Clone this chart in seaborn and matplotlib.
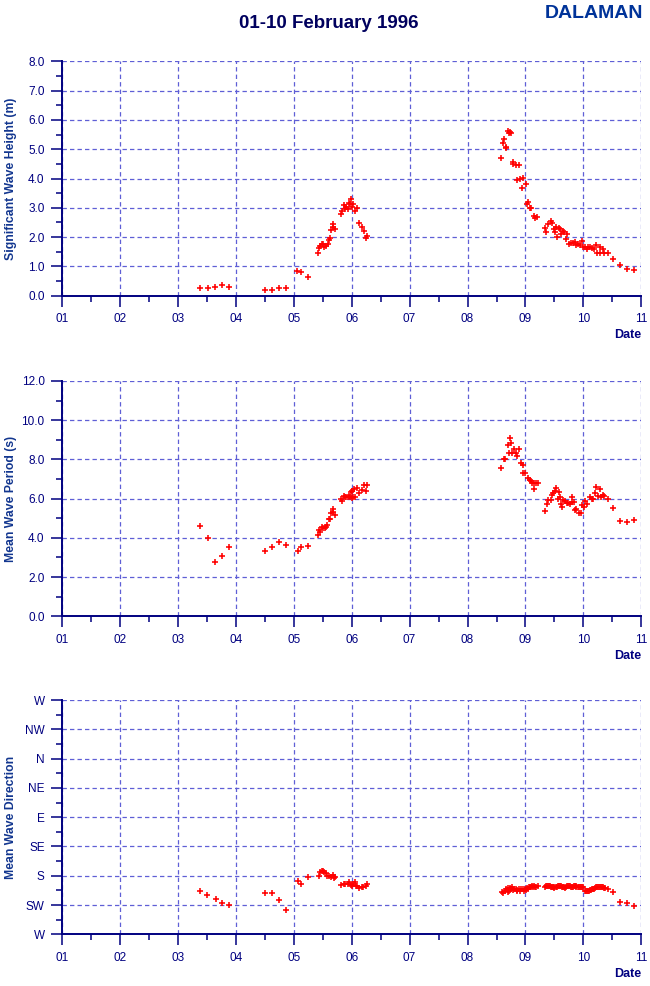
import numpy as np
import pandas as pd
import matplotlib
matplotlib.use("Agg")
import matplotlib.pyplot as plt
from matplotlib.ticker import MultipleLocator, FixedLocator, FormatStrFormatter
import seaborn as sns

# --- data (day of February 1996) ---
hs_day = [3.39, 3.52, 3.64, 3.77, 3.89,
          4.50, 4.63, 4.75, 4.87,
          5.06, 5.13, 5.25,
          5.42, 5.43, 5.46, 5.49, 5.51, 5.53, 5.56, 5.59, 5.61, 5.63, 5.65, 5.67, 5.68, 5.72,
          5.82, 5.84, 5.87, 5.89, 5.91, 5.93, 5.95, 5.97, 5.99, 6.01, 6.02, 6.05, 6.09,
          6.13, 6.18, 6.22, 6.25, 6.26,
          8.58, 8.61, 8.63, 8.66, 8.67, 8.70, 8.72, 8.74, 8.75,
          8.78, 8.79, 8.83, 8.86, 8.88, 8.91, 8.94, 8.96, 9.01,
          9.03, 9.04, 9.07, 9.10, 9.14, 9.17, 9.20,
          9.33, 9.36, 9.38, 9.44, 9.46, 9.50, 9.53, 9.51, 9.55, 9.58, 9.61, 9.60, 9.64, 9.67,
          9.70, 9.72, 9.75, 9.79, 9.82, 9.85, 9.87, 9.90, 9.94, 9.97, 10.00, 10.03, 10.06,
          10.08, 10.12, 10.15, 10.19, 10.22, 10.24, 10.28, 10.28, 10.33, 10.36, 10.43,
          10.51, 10.64, 10.76, 10.88]
hs_val = [0.25, 0.25, 0.31, 0.36, 0.29,
          0.19, 0.19, 0.25, 0.26,
          0.84, 0.81, 0.65,
          1.45, 1.62, 1.71, 1.75, 1.75, 1.65, 1.71, 1.75, 1.90, 1.98, 2.24, 2.36, 2.46, 2.29,
          2.79, 2.89, 3.11, 2.95, 3.02, 2.97, 3.17, 3.13, 3.31, 3.04, 3.13, 2.89, 2.98,
          2.48, 2.34, 2.21, 1.97, 2.04,
          4.69, 5.20, 5.36, 5.06, 5.04, 5.62, 5.55, 5.60, 5.55,
          4.49, 4.57, 4.45, 3.95, 4.46, 3.97, 3.67, 4.03, 3.81,
          3.13, 3.19, 2.98, 2.98, 2.72, 2.65, 2.70,
          2.30, 2.18, 2.44, 2.54, 2.47, 2.29, 2.34, 2.16, 1.99, 2.30, 2.10, 2.27, 2.22, 2.18,
          1.95, 2.12, 1.75, 1.81, 1.81, 1.82, 1.74, 1.76, 1.72, 1.88, 1.67, 1.65, 1.59,
          1.65, 1.67, 1.63, 1.58, 1.74, 1.47, 1.47, 1.67, 1.58, 1.47, 1.46,
          1.24, 1.06, 0.90, 0.87]

tm_day = [3.39, 3.52, 3.64, 3.76, 3.89,
          4.50, 4.63, 4.75, 4.87,
          5.07, 5.13, 5.25,
          5.42, 5.44, 5.46, 5.49, 5.51, 5.54, 5.56, 5.58,
          5.61, 5.63, 5.65, 5.67, 5.68, 5.71,
          5.82, 5.84, 5.86, 5.88, 5.90, 5.93, 5.95, 5.97, 6.00, 6.02, 6.05,
          5.98, 6.01, 6.04, 6.09,
          6.13, 6.17, 6.21, 6.25, 6.27,
          8.58, 8.63, 8.65, 8.69, 8.72, 8.74, 8.75, 8.77, 8.80, 8.83, 8.86, 8.88,
          8.92, 8.95, 8.96, 9.00,
          9.04, 9.07, 9.09, 9.11, 9.14, 9.15, 9.18, 9.21,
          9.33, 9.37, 9.39, 9.44, 9.46, 9.48, 9.51, 9.53, 9.57, 9.56, 9.60, 9.63, 9.61,
          9.65, 9.68, 9.71, 9.73, 9.76, 9.80, 9.80, 9.84, 9.86, 9.88, 9.92, 9.95, 9.98,
          10.01, 10.03, 10.07, 10.11, 10.14, 10.17, 10.20, 10.22, 10.25, 10.28, 10.30,
          10.33, 10.36, 10.43, 10.51, 10.64, 10.75, 10.88]
tm_val = [4.59, 3.98, 2.77, 3.06, 3.54,
          3.32, 3.52, 3.79, 3.62,
          3.35, 3.52, 3.57,
          4.13, 4.40, 4.29, 4.56, 4.52, 4.49, 4.54, 4.66,
          4.96, 4.98, 5.27, 5.34, 5.49, 5.15,
          5.98, 5.88, 6.15, 6.07, 6.07, 6.10, 6.15, 6.09, 6.05, 6.10, 6.09,
          6.36, 6.41, 6.48, 6.56,
          6.28, 6.46, 6.68, 6.38, 6.68,
          7.55, 8.01, 8.01, 8.72, 8.35, 9.08, 8.86, 8.35, 8.52, 8.35, 8.18, 8.52,
          7.84, 7.30, 7.72, 7.30,
          7.04, 6.95, 6.90, 6.79, 6.48, 6.80, 6.80, 6.82,
          5.36, 5.73, 5.95, 5.92, 6.17, 6.31, 6.38, 6.56, 6.36, 5.97, 6.09, 5.56, 5.74,
          5.93, 5.88, 5.77, 5.80, 5.73, 6.07, 5.83, 5.82, 5.42, 5.49, 5.29, 5.26, 5.66,
          5.56, 5.90, 5.71, 6.07, 5.98, 5.98, 6.29, 6.58, 6.14, 6.48, 6.07,
          6.17, 6.15, 5.97, 5.51, 4.85, 4.80, 4.91]

dir_day = [3.39, 3.51, 3.65, 3.77, 3.89,
           4.51, 4.63, 4.75, 4.87,
           5.07, 5.13, 5.25,
           5.43, 5.45, 5.48, 5.51, 5.53, 5.56, 5.58, 5.61, 5.65, 5.67, 5.70, 5.72,
           5.82, 5.86, 5.89, 5.93, 5.96, 5.98, 6.01, 6.03, 6.05, 6.08, 6.10, 6.13,
           6.17, 6.20, 6.24, 6.27,
           8.60, 8.62, 8.65, 8.67, 8.69, 8.70, 8.72, 8.73, 8.75, 8.77, 8.79, 8.81, 8.83,
           8.85, 8.86, 8.88, 8.90, 8.92, 8.95, 8.97, 8.99, 9.01, 9.03, 9.04, 9.06, 9.08,
           9.10, 9.11, 9.13, 9.15, 9.17, 9.18, 9.22,
           9.33, 9.35, 9.37, 9.39, 9.40, 9.42, 9.44, 9.46, 9.47, 9.49, 9.50, 9.52, 9.54,
           9.56, 9.57, 9.59, 9.61, 9.63, 9.64, 9.66, 9.68, 9.70, 9.71, 9.73, 9.75, 9.77,
           9.78, 9.80, 9.82, 9.83, 9.85, 9.87, 9.88, 9.90, 9.92, 9.94, 9.95, 9.97, 9.99,
           10.02, 10.04, 10.06, 10.08, 10.09, 10.11, 10.13, 10.15, 10.16, 10.18, 10.20,
           10.22, 10.23, 10.25, 10.27, 10.28, 10.30, 10.32, 10.33, 10.35, 10.37, 10.43,
           10.51, 10.64, 10.76, 10.88]
dir_deg = [204, 210, 215, 222, 225,
           207, 206, 218, 233,
           188, 193, 182,
           180, 174, 172, 172, 174, 176, 180, 181, 182, 179, 183, 182,
           194, 193, 193, 192, 189, 194, 196, 193, 189, 196, 196, 199,
           198, 197, 196, 192,
           205, 206, 204, 201, 205, 199, 203, 199, 201, 198, 202, 200, 201,
           202, 204, 201, 203, 200, 201, 203, 201, 202, 199, 200, 198, 198,
           197, 196, 197, 196, 197, 197, 196,
           197, 196, 195, 195, 195, 196, 197, 198, 198, 199, 197, 197, 197,
           196, 195, 195, 196, 197, 198, 198, 199, 197, 196, 195, 195, 196,
           197, 198, 197, 196, 196, 196, 197, 197, 197, 197, 197, 198, 198,
           203, 204, 204, 203, 203, 202, 202, 201, 201, 200, 199,
           198, 198, 198, 197, 198, 198, 198, 198, 199, 199, 200,
           205, 221, 222, 227]

day_ticks = list(range(1, 12))
day_labels = ["01", "02", "03", "04", "05", "06", "07", "08", "09", "10", "11"]
dir_labels = ["W", "SW", "S", "SE", "E", "NE", "N", "NW", "W"]

NAVY = "#000080"
LABEL_BLUE = "#12368f"
GRID = "#5f5fd6"

sns.set_style("white")
plt.rcParams["font.family"] = ["Liberation Sans", "DejaVu Sans"]

hs_df = pd.DataFrame({"day": hs_day, "val": hs_val})
tm_df = pd.DataFrame({"day": tm_day, "val": tm_val})
dir_df = pd.DataFrame({"day": dir_day, "deg": dir_deg})
# direction axis runs W (bottom) -> SW -> S ... -> NW -> W (top), one step per 45 deg
dir_df["val"] = ((270 - dir_df["deg"]) % 360) / 45.0

fig = plt.figure(figsize=(6.5, 9.86), dpi=100)
left, width = 0.0954, 0.8913
ax1 = fig.add_axes([left, 0.7001, width, 0.2377])
ax2 = fig.add_axes([left, 0.3750, width, 0.2386])
ax3 = fig.add_axes([left, 0.0524, width, 0.2376])


def style_axis(ax, ylabel, ymax, ymajor, yminor):
    ax.set_xlim(1, 11)
    ax.set_ylim(0, ymax)
    ax.xaxis.set_major_locator(FixedLocator(day_ticks))
    ax.set_xticklabels(day_labels)
    ax.xaxis.set_minor_locator(MultipleLocator(0.5))
    ax.yaxis.set_major_locator(MultipleLocator(ymajor))
    ax.yaxis.set_minor_locator(MultipleLocator(yminor))
    for side in ["top", "right"]:
        ax.spines[side].set_visible(False)
    for side in ["left", "bottom"]:
        ax.spines[side].set_color(NAVY)
        ax.spines[side].set_linewidth(1.4)
    ax.tick_params(which="major", direction="out", length=8, width=1.1, color=NAVY,
                   labelcolor=NAVY, labelsize=8.5, pad=4.5)
    ax.tick_params(which="minor", direction="out", length=4, width=1.1, color=NAVY)
    ax.tick_params(axis="x", which="both", bottom=True)
    ax.tick_params(axis="y", which="both", left=True)
    ax.grid(True, which="major", color=GRID, linestyle=(0, (3.5, 2.5)), linewidth=0.9)
    ax.set_axisbelow(True)
    ax.set_xlabel("Date", loc="right", fontsize=9, fontweight="bold", color=NAVY, labelpad=3)
    ax.set_ylabel(ylabel, fontsize=8.8, fontweight="bold", color=LABEL_BLUE)
    ax.yaxis.set_label_coords(-0.077, 0.5)


for ax, df in [(ax1, hs_df), (ax2, tm_df), (ax3, dir_df)]:
    sns.scatterplot(data=df, x="day", y="val", ax=ax, marker="+", color="red",
                    s=18, linewidth=1.15, legend=False, zorder=3, clip_on=False)

style_axis(ax1, "Significant Wave Height (m)", 8, 1.0, 0.5)
ax1.yaxis.set_major_formatter(FormatStrFormatter("%.1f"))
style_axis(ax2, "Mean Wave Period (s)", 12, 2.0, 1.0)
ax2.yaxis.set_major_formatter(FormatStrFormatter("%.1f"))
style_axis(ax3, "Mean Wave Direction", 8, 1.0, 0.5)
ax3.set_yticks(range(9))
ax3.set_yticklabels(dir_labels)

fig.text(0.506, 0.976, "01-10 February 1996", ha="center", va="center",
         fontsize=13.5, fontweight="bold", color="#00005e")
fig.text(0.989, 0.986, "DALAMAN", ha="right", va="center",
         fontsize=14, fontweight="bold", color="#003399")

fig.savefig("out.png", dpi=100)
